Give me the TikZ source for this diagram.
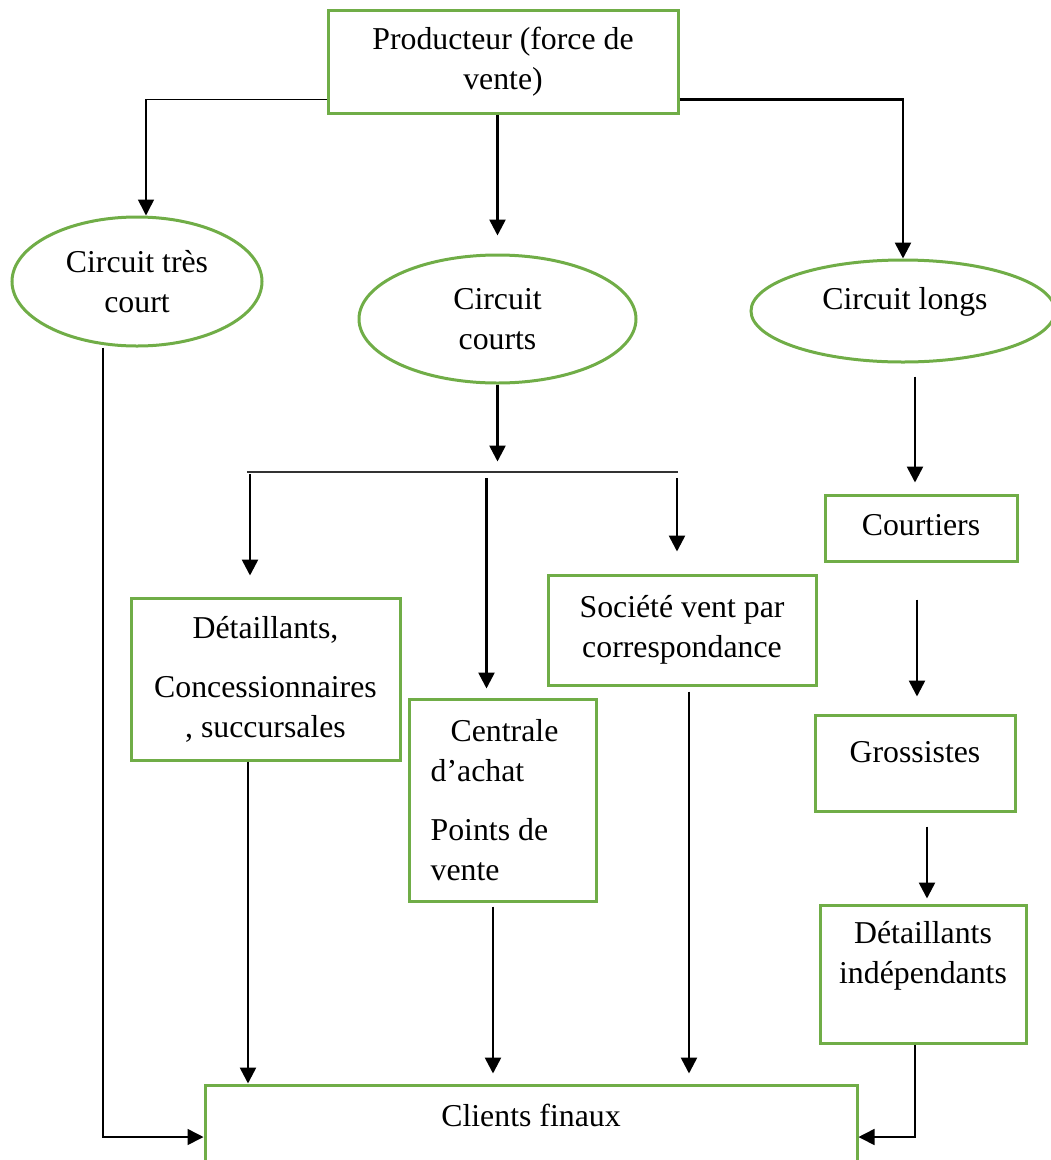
\documentclass[tikz,border=0pt]{standalone}
\usepackage{fontspec}
\setmainfont{Liberation Serif}
\usetikzlibrary{arrows.meta,shapes.geometric,calc}
\definecolor{leaf}{HTML}{70AD47}
\begin{document}
\begin{tikzpicture}[x=1pt,y=-1pt,
  font=\fontsize{31.8}{39.5}\selectfont,
  box/.style={draw=leaf,line width=3pt,rectangle,inner sep=0pt,align=center},
  oval/.style={draw=leaf,line width=3pt,ellipse,inner sep=0pt,align=center},
  txt/.style={inner sep=0pt,align=center},
  arr/.style={draw=black,line width=2.6pt,-{Triangle[length=16pt,width=16pt]}},
  thinarr/.style={draw=black,line width=1.6pt,-{Triangle[length=16pt,width=16pt]}},
  bar/.style={draw=black!80,line width=1.8pt}
]
\useasboundingbox (0,0) rectangle (1051,1160);

% producer
\node[box,minimum width=350pt,minimum height=103pt] (prod) at (503,61.5) {Producteur (force de\\vente)};

% the three channel types
\node[oval,minimum width=250pt,minimum height=129pt] (e1) at (137,281.5) {Circuit très\\court};
\node[oval,minimum width=277pt,minimum height=128pt] (e2) at (497.5,319) {Circuit\\courts};
\node[oval,minimum width=304pt,minimum height=102pt] (e3) at (903,311) {};
\node[txt] (e3t) at (905,302) {Circuit longs};

% intermediaries
\node[box,minimum width=269pt,minimum height=162pt] (det) at (265.5,679) {Détaillants,\\[20pt]Concessionnaires\\, succursales};
\node[box,minimum width=187pt,minimum height=202pt] (cen) at (502.5,800) {};
\node[txt,align=left] (cent) at (494.5,800) {\hspace*{20pt}Centrale\\d’achat\\[20pt]Points de\\vente};
\node[box,minimum width=268pt,minimum height=110pt] (soc) at (682,630) {Société vent par\\correspondance};
\node[box,minimum width=192pt,minimum height=66pt] (cou) at (921,528) {};
\node[txt] (cout) at (921,525) {Courtiers};
\node[box,minimum width=200pt,minimum height=96pt] (gro) at (915,763) {};
\node[txt] (grot) at (915,752) {Grossistes};
\node[box,minimum width=206pt,minimum height=138pt] (di) at (923,974) {};
\node[txt] (dit) at (923,956) {Détaillants\\indépendants};

% final customers
\node[box,minimum width=652pt,minimum height=104pt] (clients) at (531,1137) {};
\node[txt] (clientst) at (531,1115) {Clients finaux};

% producer to channels
\draw[thinarr] ([yshift=15pt]prod.south west) -| ([xshift=9pt]e1.north);
\draw[arr] ([yshift=15pt]prod.south east) -| (e3.north);
\draw[arr] (prod.south -| e2.north) -- ([yshift=18pt]e2.north);

% very short channel
\draw[thinarr] ([xshift=-34pt]e1.south) |- (clients.west);

% short channel split
\draw[arr] (e2.south) -- ++(0,77);
\coordinate (barL) at (247,472);
\coordinate (barR) at (678,472);
\draw[bar] (barL) -- (barR);
\coordinate (b1) at (250,474);
\coordinate (b2) at (486.5,478);
\coordinate (b3) at (677,478);
\draw[arr] (b1) -- ($(b1 |- det.north)+(0,-21)$);
\draw[arr] (b2) -- ($(b2 |- cen.north)+(0,-9)$);
\draw[arr] (b3) -- ($(b3 |- soc.north)+(0,-22)$);

% down to the customers
\coordinate (d1) at ($(det.south)+(-17.5,0)$);
\draw[arr] (d1) -- (d1 |- clients.north);
\coordinate (c1) at ($(cen.south)+(-9.5,4)$);
\draw[arr] (c1) -- ($(c1 |- clients.north)+(0,-10)$);
\coordinate (s1) at ($(soc.south)+(7,5)$);
\draw[arr] (s1) -- ($(s1 |- clients.north)+(0,-10)$);

% long channel
\coordinate (r1) at ($(e3.south)+(12,13)$);
\draw[arr] (r1) -- ($(r1 |- cou.north)+(0,-11)$);
\coordinate (r2) at ($(cou.south)+(-4,37)$);
\draw[arr] (r2) -- ($(r2 |- gro.north)+(0,-17)$);
\coordinate (r3) at ($(gro.south)+(12,14)$);
\draw[arr] (r3) -- ($(r3 |- di.north)+(0,-5)$);
\draw[thinarr] ([xshift=-8pt]di.south) |- (clients.east);
\end{tikzpicture}
\end{document}
